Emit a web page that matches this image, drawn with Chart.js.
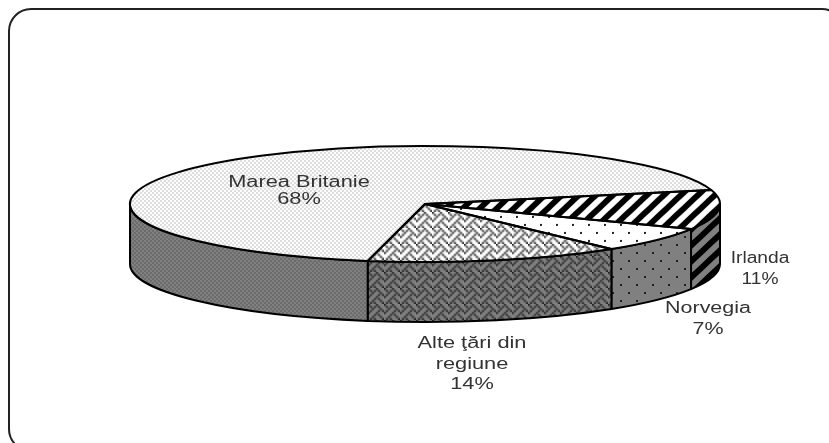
<!DOCTYPE html>
<html><head><meta charset="utf-8">
<script src="https://cdn.jsdelivr.net/npm/chart.js@4/dist/chart.umd.js"></script>
<style>html,body{margin:0;padding:0;background:#fff}canvas{display:block}</style>
</head><body><canvas id="c" width="829" height="443"></canvas>
<script>
const categories = ['Irlanda', 'Norvegia', 'Alte ţări din regiune', 'Marea Britanie'];
const shares = [11, 7, 14, 68];
const labelLines = [['Irlanda', '11%'], ['Norvegia', '7%'], ['Alte ţări din', 'regiune', '14%'], ['Marea Britanie', '68%']];

const FLAT = 58 / 295, DEPTH = 60;

function tile(w, h, paint) {
  const c = document.createElement('canvas'); c.width = w; c.height = h;
  paint(c.getContext('2d'), w, h);
  return document.createElement('canvas').getContext('2d').createPattern(c, 'repeat');
}
function unflatten(p) { p.setTransform(new DOMMatrix([1, 0, 0, 1 / FLAT, 0, 0])); return p; }
function stripes(bg, fg) {
  return tile(17, 16, (g, w, h) => {
    g.fillStyle = bg; g.fillRect(0, 0, w, h);
    g.strokeStyle = fg; g.lineWidth = 6;
    [-w, 0, w].forEach(o => { g.beginPath(); g.moveTo(o - 2 * w, 3 * h); g.lineTo(o + 2 * w, -h); g.stroke(); });
  });
}
function dots(bg, fg) {
  return tile(16, 16, (g, w, h) => {
    g.fillStyle = bg; g.fillRect(0, 0, w, h);
    g.fillStyle = fg; g.fillRect(4, 4, 2, 2); g.fillRect(12, 12, 2, 2);
  });
}
function fine(bg, fg) {
  return tile(4, 4, (g, w, h) => {
    g.fillStyle = bg; g.fillRect(0, 0, w, h);
    g.fillStyle = fg; g.fillRect(0, 0, 2, 2); g.fillRect(2, 2, 2, 2);
  });
}
const WEAVE = ['10001000', '01010100', '00100010', '01000101', '10001000', '00010100', '00100010', '01010001'];
function weave(bg, fg) {
  return tile(16, 16, (g, w, h) => {
    const src = document.createElement('canvas'); src.width = 8; src.height = 8;
    const s = src.getContext('2d');
    s.fillStyle = bg; s.fillRect(0, 0, 8, 8);
    s.fillStyle = fg;
    WEAVE.forEach((row, y) => [...row].forEach((b, x) => { if (b === '1') s.fillRect(x, y, 1, 1); }));
    g.imageSmoothingEnabled = true;
    for (let i = -1; i <= 1; i++) for (let j = -1; j <= 1; j++) g.drawImage(src, i * w, j * h, w, h);
  });
}
const topFills = [
  unflatten(stripes('#ffffff', '#000000')),
  unflatten(dots('#ffffff', '#222222')),
  unflatten(weave('#ffffff', '#222222')),
  unflatten(fine('#ffffff', '#dcdcdc'))
];
const sideFills = [stripes('#808080', '#000000'), dots('#808080', '#222222'), weave('#808080', '#222222'), fine('#6c6c6c', '#808080')];

const pie3d = {
  id: 'pie3d',
  beforeDraw(chart) {
    const ctx = chart.ctx;
    ctx.save();
    ctx.fillStyle = '#fff'; ctx.fillRect(0, 0, chart.width, chart.height);
    ctx.strokeStyle = '#222'; ctx.lineWidth = 2;
    ctx.beginPath(); ctx.roundRect(9, 9, 835, 442, 22); ctx.stroke();
    ctx.restore();
  },
  beforeDatasetsDraw(chart) {
    const ctx = chart.ctx;
    chart.getDatasetMeta(0).data.forEach((a, i) => {
      const s = Math.max(a.startAngle, 0), e = Math.min(a.endAngle, Math.PI);
      if (s >= e) return;
      ctx.save();
      ctx.beginPath();
      ctx.ellipse(a.x, a.y, a.outerRadius, a.outerRadius * FLAT, 0, s, e);
      ctx.ellipse(a.x, a.y + DEPTH, a.outerRadius, a.outerRadius * FLAT, 0, e, s, true);
      ctx.closePath();
      ctx.fillStyle = sideFills[i]; ctx.fill();
      ctx.strokeStyle = '#000'; ctx.lineWidth = 2; ctx.lineJoin = 'round'; ctx.stroke();
      ctx.restore();
    });
  },
  beforeDatasetDraw(chart) {
    const a = chart.getDatasetMeta(0).data[0], ctx = chart.ctx;
    ctx.save();
    ctx.translate(a.x, a.y); ctx.scale(1, FLAT); ctx.translate(-a.x, -a.y);
  },
  afterDatasetDraw(chart) { chart.ctx.restore(); },
  afterDatasetsDraw(chart) {
    const ctx = chart.ctx;
    chart.getDatasetMeta(0).data.forEach(a => {
      ctx.save();
      ctx.beginPath();
      ctx.moveTo(a.x, a.y);
      ctx.ellipse(a.x, a.y, a.outerRadius, a.outerRadius * FLAT, 0, a.startAngle, a.endAngle);
      ctx.closePath();
      ctx.strokeStyle = '#000'; ctx.lineWidth = 2; ctx.lineJoin = 'round'; ctx.stroke();
      ctx.restore();
    });
    const anchors = [[760, 259], [708, 309], [472, 344], [299, 183]];
    const gaps = [21, 21, 20.5, 17];
    const stretch = [1.2, 1.34, 1.36, 1.36];
    labelLines.forEach((lines, i) => {
      lines.forEach((t, k) => {
        ctx.save();
        ctx.translate(anchors[i][0], anchors[i][1] + k * gaps[i]);
        ctx.scale(stretch[i], 1);
        ctx.font = '16px "Liberation Sans"';
        ctx.fillStyle = '#333'; ctx.textAlign = 'center'; ctx.textBaseline = 'middle';
        ctx.fillText(t, 0, 0);
        ctx.restore();
      });
    });
  }
};

new Chart(document.getElementById('c'), {
  type: 'pie',
  data: { labels: categories, datasets: [{ data: shares, backgroundColor: topFills, borderWidth: 0, clip: false }] },
  options: {
    responsive: false, animation: false,
    radius: 295, rotation: 76,
    layout: { padding: { left: 21, bottom: 35 } },
    plugins: { legend: { display: false }, tooltip: { enabled: false } }
  },
  plugins: [pie3d]
});
</script></body></html>
